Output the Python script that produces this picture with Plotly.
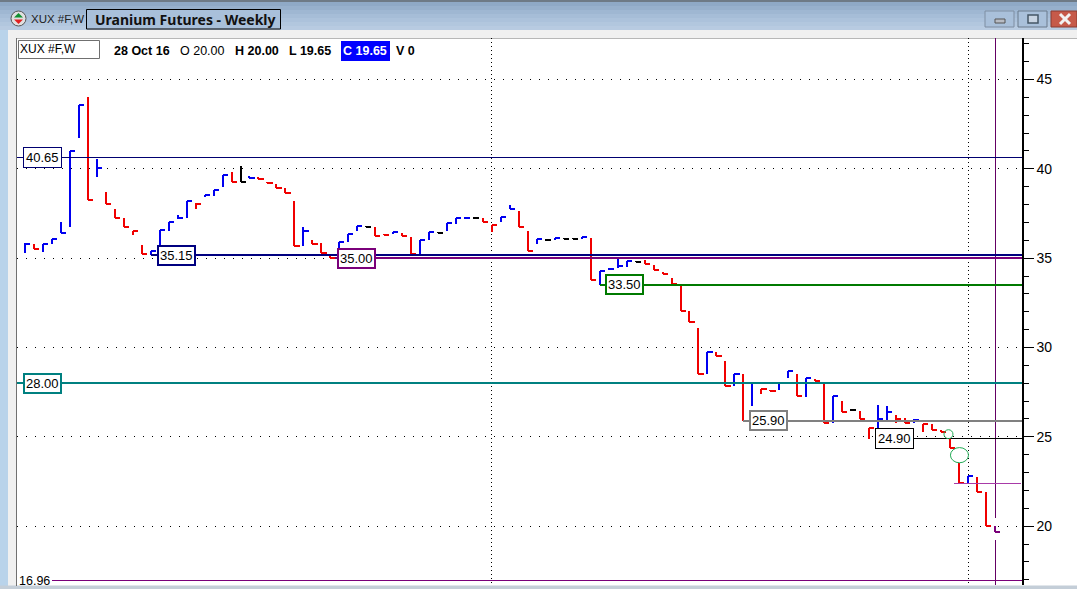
import plotly.graph_objects as go

# ---- data ---------------------------------------------------------------
highs = [35.85,35.8,35.8,36.05,37.05,41.0,43.55,44.0,40.55,38.7,37.75,37.25,36.5,35.75,35.4,36.55,37.05,37.4,38.2,38.1,
         38.55,38.8,39.65,39.8,40.15,39.6,39.55,39.25,39.15,38.9,38.2,36.75,36.0,35.85,35.2,35.9,36.35,36.8,36.8,36.75,
         36.35,36.45,36.4,36.2,36.0,36.45,36.45,36.95,37.25,37.3,37.3,37.25,36.85,37.3,38.0,37.65,36.5,36.05,36.05,36.15,
         36.15,36.15,36.2,36.15,34.3,34.45,35.0,34.85,34.85,34.9,34.6,34.2,33.9,33.5,32.05,31.1,29.75,29.75,29.25,28.5,
         28.5,28.0,27.7,27.65,28.0,28.7,28.5,28.3,28.25,28.0,27.3,27.0,26.55,26.45,25.5,26.8,26.75,26.25,26.05,26.0,
         25.7,25.7,25.4,24.9,23.55,22.8,22.75,21.9,20.0]
lows = [35.3,35.5,35.35,35.8,36.4,36.75,41.75,38.25,39.55,38.05,37.25,36.75,36.3,35.25,35.2,35.75,36.5,37.2,37.25,37.75,
        38.4,38.5,39.0,39.25,39.25,39.5,39.45,39.2,38.9,38.65,35.7,35.7,35.8,35.3,35.0,35.2,35.9,36.5,36.75,36.25,
        36.3,36.35,36.25,35.25,35.25,36.0,36.4,36.5,36.9,37.2,37.2,37.0,36.45,37.0,37.75,36.75,35.4,35.8,35.95,36.0,
        36.05,36.05,36.05,33.8,33.5,34.35,34.45,34.5,34.8,34.65,34.35,34.1,33.55,32.05,31.4,28.5,28.5,29.5,27.85,27.85,
        25.9,26.75,27.4,27.55,27.65,28.3,27.3,27.25,28.15,25.8,25.75,26.4,26.45,26.0,24.9,25.4,25.95,25.8,25.75,25.75,
        25.25,25.4,25.25,24.4,22.4,22.4,21.9,20.0,19.65]
closes = [35.8,35.5,35.8,36.05,36.4,41.0,43.55,38.25,40.05,38.05,37.25,36.75,36.5,35.25,35.4,36.55,37.05,37.25,38.2,38.05,
          38.55,38.8,39.65,39.25,39.25,39.5,39.45,39.2,38.9,38.65,35.7,36.5,35.8,35.3,35.0,35.9,36.35,36.8,36.75,36.25,
          36.3,36.45,36.25,35.25,36.0,36.45,36.4,36.95,37.25,37.25,37.25,37.0,36.85,37.3,37.75,36.75,35.4,36.05,36.0,36.15,
          36.1,36.1,36.2,33.8,34.3,34.4,34.55,34.85,34.8,34.65,34.35,34.1,33.55,32.05,31.4,28.5,29.75,29.5,27.85,28.5,
          25.9,28.0,27.7,27.55,28.0,28.7,27.3,28.3,28.15,25.8,27.3,26.4,26.5,26.0,25.5,26.0,26.4,26.0,25.75,25.95,
          25.7,25.4,25.25,24.4,22.4,22.8,21.9,20.0,19.65]
bar_colors = list("brbbbbbrbrrrrrbbbbbr" "bbbrkbrrrrrbrrrbbbkr" "rbrrbbkbbbkrrbbrrbkb"
                  "kkbrbbbbkrrrrrrrbrrb" "rbrrbbrbrrbrkrrbbrrb" "rrrrrbrrp")

level_values = [40.65, 35.15, 35.00, 33.50, 28.00, 25.90, 24.90, 16.96, 22.40]
level_starts = [-0.9, 14.0, 34.5, 64.0, -0.9, 80.0, 96.0, 3.0, 103.5]
level_ends = [111.2, 111.2, 111.2, 111.2, 111.2, 111.2, 111.2, 111.2, 110.9]
level_colors = ["#000070", "#000080", "#7a007a", "#007a00", "#008080", "#808080", "#000000", "#7a007a", "#a83aa8"]
level_widths = [1, 2, 2, 2, 2, 2, 1, 1, 1]
label_texts = ["40.65", "35.15", "35.00", "33.50", "28.00", "25.90", "24.90"]
label_bars = [1.95, 16.87, 36.9, 66.8, 2.0, 82.85, 96.8]
label_widths = [1, 2, 2, 2, 2, 2, 1]
label_colors = ["#000070", "#000080", "#7a007a", "#007a00", "#008080", "#808080", "#000000"]

y_min, y_max = 16.71, 47.32
x_min, x_max = -0.89, 111.14
W, H = 1077, 589

colmap = {"b": "#0000f0", "r": "#f00000", "k": "#000000", "p": "#7a007a"}
TICK = 0.58

fig = go.Figure()
for code, col in colmap.items():
    xs, ys = [], []
    for i, c in enumerate(bar_colors):
        if c != code:
            continue
        xs += [i, i, None, i, i + TICK, None]
        ys += [highs[i], lows[i], None, closes[i], closes[i], None]
    fig.add_trace(go.Scatter(x=xs, y=ys, mode="lines", line=dict(color=col, width=2), hoverinfo="skip", showlegend=False))

# crosshair
fig.add_trace(go.Scatter(x=[108.1, 108.1, None, 108.1, 108.1], y=[y_max, 20.46, None, 19.23, y_min], mode="lines",
                         line=dict(color="#640064", width=1), hoverinfo="skip", showlegend=False))
for v, a, b, c, w in zip(level_values, level_starts, level_ends, level_colors, level_widths):
    fig.add_trace(go.Scatter(x=[a, b], y=[v, v], mode="lines", line=dict(color=c, width=w), hoverinfo="skip", showlegend=False))

def fx(p): return p / W
def fy(p): return 1 - p / H

def rect(x0, y0, x1, y1, fill=None, line=None, lw=1):
    return dict(type="rect", xref="paper", yref="paper", x0=fx(x0), x1=fx(x1), y0=fy(y0), y1=fy(y1),
                fillcolor=fill or "rgba(0,0,0,0)", line=dict(color=line or "rgba(0,0,0,0)", width=lw if line else 0), layer="below")

shapes = []
# window chrome, gradient approximated by strips
title_cols = ["#8fa9c6", "#97b0cc", "#9fb7d2", "#a6bdd7", "#acc2db", "#b2c7de", "#b8cbe1"]
for k, c in enumerate(title_cols):
    shapes.append(rect(0, 2 + k * 4, W, 2 + (k + 1) * 4 + 1, fill=c))
shapes.append(rect(0, 0, W, 2, fill="#6e7a86"))
shapes.append(rect(0, 30, 8, H, fill="#b9d3ea"))
shapes.append(rect(8, 30, W, 38, fill="#f0f0f0"))
shapes.append(rect(8, 30, 16.5, H, fill="#f0f0f0"))
shapes.append(rect(0, 585.5, W, H, fill="#c4ced8"))
shapes.append(rect(16.5, 38, W, 38.6, fill="#707070"))
# plot frame left
shapes.append(rect(16, 38, 17, 586, fill="#707070"))
# window buttons
shapes.append(rect(985, 11, 1014, 27, fill="#a9c0da", line="#7e8ea2"))
shapes.append(rect(1018, 11, 1047, 27, fill="#a9c0da", line="#6b7a8c"))
shapes.append(rect(1051, 11, W, 27, fill="#c65a4a", line="#8a3a30"))
shapes.append(rect(995, 19, 1005, 23, fill="#b8bcc4", line="#555555"))
shapes.append(rect(1028, 15, 1038, 23, fill="#c8d4e2", line="#445566", lw=1.5))
for x0, x1, y0, y1 in [(1060, 1070, 14, 24), (1060, 1070, 24, 14)]:
    shapes.append(dict(type="line", xref="paper", yref="paper", x0=fx(x0), x1=fx(x1), y0=fy(y0), y1=fy(y1),
                       line=dict(color="#f2f2f2", width=3), layer="below"))
# icon
shapes.append(dict(type="circle", xref="paper", yref="paper", x0=fx(11), x1=fx(26), y0=fy(11), y1=fy(26),
                   fillcolor="#e0e0e0", line=dict(color="#555555", width=1), layer="below"))
shapes.append(dict(type="path", xref="paper", yref="paper", layer="below", fillcolor="#109030", line=dict(width=0),
                   path=f"M {fx(14)} {fy(17.5)} L {fx(23)} {fy(17.5)} L {fx(18.5)} {fy(13)} Z"))
shapes.append(dict(type="path", xref="paper", yref="paper", layer="below", fillcolor="#e02020", line=dict(width=0),
                   path=f"M {fx(14)} {fy(19.5)} L {fx(23)} {fy(19.5)} L {fx(18.5)} {fy(24)} Z"))
# title box and info boxes
shapes.append(rect(86.5, 9.5, 280.5, 29, fill="#a9c0da", line="#000000"))
shapes.append(rect(18.5, 40.5, 99.5, 58.5, fill="#ffffff", line="#707070"))
shapes.append(rect(341, 41, 390, 61, fill="#0000ff"))

# price-attached ellipses
ellipse_x = [(102.34, 103.34), (103.06, 105.07)]
ellipse_y = [(24.9, 25.4), (23.55, 24.4)]
for (a, b), (c, d) in zip(ellipse_x, ellipse_y):
    shapes.append(dict(type="circle", xref="x", yref="y", x0=a, x1=b, y0=c, y1=d,
                       line=dict(color="#22aa55", width=1), fillcolor="rgba(0,0,0,0)", layer="above"))

ann = []
for t, x, v, w, c in zip(label_texts, label_bars, level_values, label_widths, label_colors):
    ann.append(dict(x=x, y=v, xref="x", yref="y", text=t, showarrow=False, bgcolor="#ffffff",
                    bordercolor=c, borderwidth=w, borderpad=1 if w > 1 else 2,
                    font=dict(family="Liberation Sans", size=13, color="#000000")))
ann.append(dict(x=1.1, y=16.96, xref="x", yref="y", text="16.96", showarrow=False, yshift=0,
                font=dict(family="Liberation Sans", size=12.5, color="#000000")))

def txt(x, y, s, size=12, bold=False, color="#000000", family="Liberation Sans"):
    return dict(x=fx(x), y=fy(y), xref="paper", yref="paper", xanchor="left", yanchor="middle", showarrow=False,
                text=f"<b>{s}</b>" if bold else s, font=dict(family=family, size=size, color=color))

ann += [
    txt(29, 19, "XUX #F,W", 11.5, color="#222222"),
    txt(93, 19.5, "Uranium Futures - Weekly", 14, True, "#111111", "Noto Sans"),
    txt(18, 49.5, "XUX #F,W", 12),
    txt(111.5, 51.5, "28 Oct 16", 12.5, True),
    txt(178, 51.5, "O 20.00", 12.5),
    txt(233, 51.5, "H 20.00", 12.5, True),
    txt(287, 51.5, "L 19.65", 12.5, True),
    txt(340.5, 51.5, "C 19.65", 12.5, True, "#ffffff"),
    txt(394, 51.5, "V 0", 12.5, True),
]

fig.update_layout(
    width=W, height=H, margin=dict(l=0, r=0, t=0, b=0), paper_bgcolor="#ffffff", plot_bgcolor="#ffffff",
    showlegend=False, shapes=shapes, annotations=ann, hovermode=False,
    xaxis=dict(domain=[17 / W, 1023 / W], range=[x_min, x_max], tickvals=[52, 105.05], showticklabels=False, ticks="",
               showgrid=True, griddash="1px,3px", gridcolor="#000000", gridwidth=1, zeroline=False, showline=False),
    yaxis=dict(domain=[1 - 585 / H, 1 - 38 / H], range=[y_min, y_max], side="right", anchor="free", position=1023 / W,
               tickvals=[20, 25, 30, 35, 40, 45], ticks="outside", ticklen=10, tickwidth=1, tickcolor="#000000",
               showline=True, linecolor="#000000", linewidth=1.5, zeroline=False,
               showgrid=True, griddash="1px,8px", gridcolor="#000000", gridwidth=1,
               tickfont=dict(family="Liberation Sans", size=14, color="#000000"),
               minor=dict(dtick=1, ticks="outside", ticklen=5, tickwidth=1, tickcolor="#000000", showgrid=False)),
)
post = ("document.body.style.margin='0';"
        "var st=document.createElement('style');"
        "st.textContent='.scatterlayer .js-line{shape-rendering:crispEdges}';"
        "document.head.appendChild(st);")
fig.write_html("out.html", post_script=post, config={"displayModeBar": False})
